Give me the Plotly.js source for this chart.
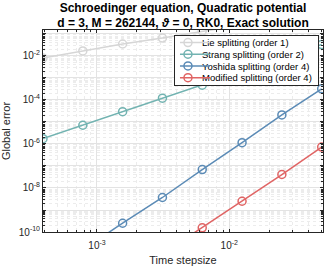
<!DOCTYPE html>
<html>
<head>
<meta charset="utf-8">
<script src="https://cdn.plot.ly/plotly-3.0.1.min.js"></script>
<style>html,body{margin:0;padding:0;background:#fff;}#chart{width:327px;height:268px;}</style>
</head>
<body>
<div id="chart"></div>
<script>
// Time step sizes
const stepsizes = [3.90625e-4, 7.8125e-4, 1.5625e-3, 3.125e-3, 6.25e-3, 1.25e-2, 2.5e-2, 5e-2];
// Global errors (log scale)
const lieError      = [8.1e-3, 1.7e-2, 3.5e-2, 6.5e-2, 1.35e-1, 2.6e-1, 5.1e-1, 9.8e-1];
const strangError   = [1.75e-6, 7.1e-6, 2.95e-5, 1.2e-4, 4.7e-4, 1.9e-3, 7.9e-3, 3.3e-2];
const yoshidaError  = [1.0e-12, 1.6e-11, 2.5e-10, 3.7e-9, 6.9e-8, 1.15e-6, 2.1e-5, 3.2e-4];
const modifiedError = [2.5e-15, 4.0e-14, 6.3e-13, 1.0e-11, 1.55e-10, 2.5e-9, 4.1e-8, 7.2e-7];
const seriesNames = ['Lie splitting (order 1)', 'Strang splitting (order 2)', 'Yoshida splitting (order 4)', 'Modified splitting (order 4)'];
const seriesColors = ['#d6d6d6', '#72b3b1', '#5b8bb6', '#e06464'];
const yTickVals = [1e-10, 1e-9, 1e-8, 1e-7, 1e-6, 1e-5, 1e-4, 1e-3, 1e-2, 1e-1];
const yTickText = ['10<sup>-10</sup>', '', '10<sup>-8</sup>', '', '10<sup>-6</sup>', '', '10<sup>-4</sup>', '', '10<sup>-2</sup>', ''];
const xTickVals = [1e-3, 1e-2];
const xTickText = ['10<sup>-3</sup>', '10<sup>-2</sup>'];

const allErrors = [lieError, strangError, yoshidaError, modifiedError];
const traces = allErrors.map((err, i) => ({
  x: stepsizes, y: err, type: 'scatter', mode: 'lines+markers',
  name: seriesNames[i],
  line: {color: seriesColors[i], width: 1.5},
  marker: {symbol: 'circle-open', size: 8, color: seriesColors[i], line: {width: 1.5}}
}));

const FONT = 'Liberation Sans, Arial, sans-serif';
const axisCommon = {
  type: 'log', showline: true, linecolor: '#262626', linewidth: 1, mirror: 'ticks',
  ticks: 'inside', ticklen: 3, tickcolor: '#262626',
  showgrid: true, gridcolor: '#e3e3e3', gridwidth: 1, zeroline: false,
  tickfont: {family: FONT, size: 10, color: '#262626'},
  minor: {dtick: 'D1', showgrid: true, gridcolor: '#ececec', griddash: 'dot', ticks: 'inside', ticklen: 2, tickcolor: '#262626'}
};

const layout = {
  width: 327, height: 268,
  margin: {l: 43, r: 4, t: 30, b: 36},
  paper_bgcolor: '#fff', plot_bgcolor: '#fff',
  title: {
    text: '<b>Schroedinger equation, Quadratic potential<br>d = 3, M = 262144, <i>ϑ</i> = 0, RK0, Exact solution</b>',
    font: {family: FONT, size: 12, color: '#000'},
    xref: 'paper', x: 0.5, xanchor: 'center', yref: 'container', y: 0.957, yanchor: 'middle'
  },
  xaxis: Object.assign({}, axisCommon, {
    range: [Math.log10(stepsizes[0]), Math.log10(stepsizes[stepsizes.length - 1]) + 0.01],
    tickmode: 'array', tickvals: xTickVals, ticktext: xTickText, ticklabelstandoff: 4,
    title: {text: 'Time stepsize', font: {family: FONT, size: 11, color: '#262626'}, standoff: 6}
  }),
  yaxis: Object.assign({}, axisCommon, {
    range: [-10, -0.82],
    tickmode: 'array', tickvals: yTickVals, ticktext: yTickText,
    title: {text: 'Global error', font: {family: FONT, size: 11, color: '#262626'}, standoff: 7}
  }),
  showlegend: true,
  legend: {
    x: 0.985, xanchor: 'right', y: 0.975, yanchor: 'top',
    bgcolor: '#fff', bordercolor: '#262626', borderwidth: 1,
    font: {family: FONT, size: 9.5, color: '#000'},
    tracegroupgap: 0, itemwidth: 30
  }
};

const gd = document.getElementById('chart');
Plotly.newPlot(gd, traces, layout, {staticPlot: true, displayModeBar: false}).then(() => {
  // compact the legend rows to MATLAB-like spacing
  const leg = gd.querySelector('.legend');
  if (!leg) return;
  const rowGap = 11.7, top = 7.5, textX = 27;
  let maxW = 0;
  leg.querySelectorAll('.traces').forEach((it, i) => {
    const m = /translate\(([-\d.]+)[ ,]+([-\d.]+)\)/.exec(it.getAttribute('transform') || '');
    const x = m ? parseFloat(m[1]) : 1;
    it.setAttribute('transform', 'translate(' + x + ',' + (top + rowGap * i) + ')');
    it.querySelectorAll('path.legendlines').forEach(p => p.setAttribute('d', 'M2,0h22'));
    it.querySelectorAll('path.scatterpts').forEach(p => p.setAttribute('transform', 'translate(13,0)'));
    const t = it.querySelector('text.legendtext');
    if (t) {
      t.setAttribute('x', textX);
      t.querySelectorAll('tspan[x]').forEach(s => s.setAttribute('x', textX));
      maxW = Math.max(maxW, t.getBBox().width);
    }
  });
  const bg = leg.querySelector('rect.bg');
  const oldW = parseFloat(bg.getAttribute('width'));
  const newW = textX + maxW + 7;
  const newH = top * 2 + rowGap * 3;
  bg.setAttribute('width', newW);
  bg.setAttribute('height', newH);
  const lm = /translate\(([-\d.]+)[ ,]+([-\d.]+)\)/.exec(leg.getAttribute('transform') || '');
  if (lm) leg.setAttribute('transform', 'translate(' + (parseFloat(lm[1]) + oldW - newW) + ',' + lm[2] + ')');
  const sb = leg.querySelector('.scrollbox');
  const cp = sb && sb.getAttribute('clip-path');
  if (cp) {
    const id = /url\(['"]?#([^'")]+)/.exec(cp);
    const r = id && document.getElementById(id[1]);
    if (r) { const rr = r.querySelector('rect') || r; rr.setAttribute('width', newW); rr.setAttribute('height', newH); }
  }
});
</script>
</body>
</html>
